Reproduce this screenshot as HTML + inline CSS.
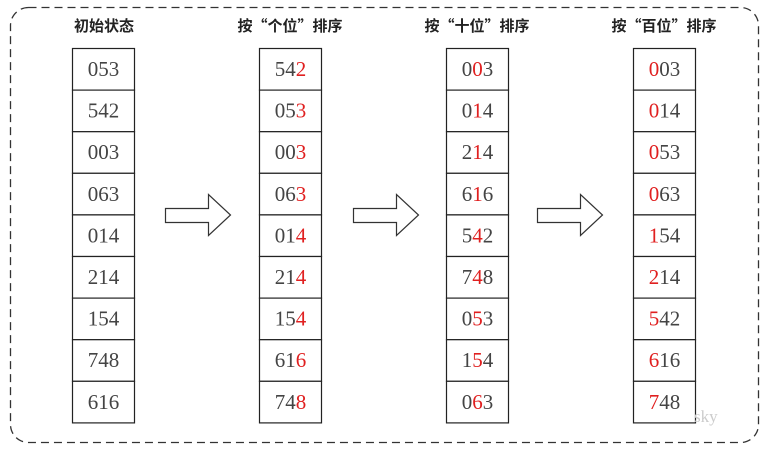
<!DOCTYPE html><html><head><meta charset="utf-8"><style>body{margin:0;background:#fff}</style></head><body>
<svg width="772" height="452" xmlns="http://www.w3.org/2000/svg">
<rect x="10.5" y="7.5" width="748" height="435" rx="18" fill="none" stroke="#333" stroke-width="1.3" stroke-dasharray="8,5"/>
<g font-family="'Noto Sans CJK SC',sans-serif" font-size="15" font-weight="bold" fill="#222" text-anchor="middle">
<text x="104" y="31">初始状态</text>
<text x="290" y="31">按“个位”排序</text>
<text x="477" y="31">按“十位”排序</text>
<text x="664" y="31">按“百位”排序</text>
</g>
<g fill="#fff" stroke="#333" stroke-width="1.2">
<path d="M165.5,208.5 H208.5 V194.5 L230.5,215 L208.5,235.5 V222.5 H165.5 Z"/>
<path d="M353.5,208.5 H396.5 V194.5 L418.5,215 L396.5,235.5 V222.5 H353.5 Z"/>
<path d="M537.5,208.5 H580.5 V194.5 L602.5,215 L580.5,235.5 V222.5 H537.5 Z"/>
</g>
<g id="cols" font-family="'Liberation Serif',serif" font-size="21" fill="#444" text-anchor="middle"></g>
<text x="694" y="422" font-family="'Liberation Serif',serif" font-size="17" fill="#ccc">sky</text>
</svg>
<script>
var data=[["053","542","003","063","014","214","154","748","616"],
["542","053","003","063","014","214","154","616","748"],
["003","014","214","616","542","748","053","154","063"],
["003","014","053","063","154","214","542","616","748"]];
var xs=[72,259,446,633],red=[-1,2,1,0],g=document.getElementById('cols'),s='';
for(var c=0;c<4;c++){for(var r=0;r<9;r++){var y=48+r*41.6;
s+='<rect x="'+(xs[c]+.5)+'" y="'+(y+.5)+'" width="62" height="41.6" fill="#fff" stroke="#222" stroke-width="1.2"/>';
var t='';for(var k=0;k<3;k++){var ch=data[c][r][k];t+=k==red[c]?'<tspan fill="#e02020">'+ch+'</tspan>':ch;}
s+='<text x="'+(xs[c]+31.5)+'" y="'+(y+28)+'">'+t+'</text>';}}
g.innerHTML=s;
</script>
</body></html>
